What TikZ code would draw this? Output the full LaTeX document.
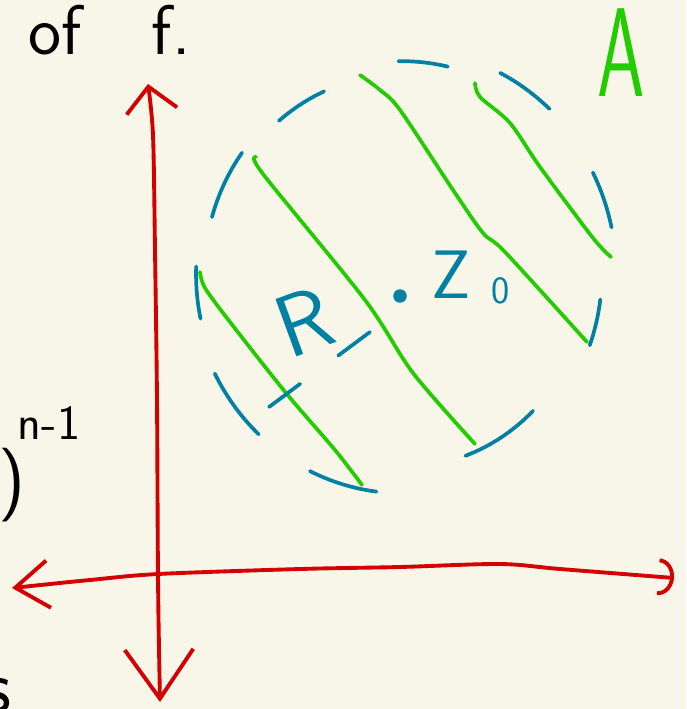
\documentclass[tikz,border=0pt]{standalone}
\usepackage{tikz}
\usetikzlibrary{arrows.meta,calc}
\definecolor{sketchred}{RGB}{212,0,0}
\definecolor{sketchblue}{RGB}{0,128,163}
\definecolor{sketchgreen}{RGB}{34,204,0}
\definecolor{paper}{RGB}{248,246,233}

\begin{document}
\begin{tikzpicture}[x=0.02cm, y=-0.02cm,
  axis/.style={draw=sketchred, line width=2.2pt, line cap=round, line join=round},
  rim/.style={draw=sketchblue, line width=2.1pt, line cap=round},
  hatch/.style={draw=sketchgreen, line width=2.1pt, line cap=round, line join=round},
  ink/.style={inner sep=0pt, font=\sffamily},
  dot/.style={circle, fill=sketchblue, inner sep=0pt, minimum size=0.27cm}
]
\clip (0,0) rectangle (686,709);
\fill[paper] (0,0) rectangle (686,709);

% axes
\draw[axis, {Straight Barb[length=28pt, width=39pt]}-{Straight Barb[length=14pt, width=29pt]}]
  plot[smooth] coordinates {(160,702) (158,575) (157,400) (155,250) (153,135) (148,84)};
\draw[axis, {Straight Barb[length=19pt, width=27pt]}-{Arc Barb[length=9pt, width=21pt]}]
  plot[smooth] coordinates {(12,588) (90,580) (158,574) (300,569) (400,567) (500,564) (560,569) (674,578)};

% dashed rim of the disc
\coordinate (C) at (402,274);
\foreach \a/\b/\s in {144/164/0.96, 114/130/0.93, 77/91/0.99, 47/63/1.05, 12/27/1.04,
    -20/-7/0.97, -70/-45/0.9, -116/-97/1.02, 207/227/1.02, 178/192/1.0}
  \draw[rim] ($(C)+(\a:{\s*4.12cm} and {\s*4.3cm})$)
    arc[start angle=\a, end angle=\b, x radius=\s*4.12cm, y radius=\s*4.3cm];

% hatching
\draw[hatch] plot[smooth] coordinates {(200,272) (205,288) (230,322) (286,393) (335,450) (362,485)};
\draw[hatch] plot[smooth] coordinates {(256,157) (263,174) (365,300) (413,373) (475,444)};
\draw[hatch] plot[smooth] coordinates {(360,75) (380,90) (400,110) (453,190) (483,233) (505,252) (587,342)};
\draw[hatch] plot[smooth] coordinates {(475,83) (480,97) (510,123) (540,167) (593,238) (611,257)};

% centre and radius
\node[dot] (z0) at (400,296) {};
\node[ink, anchor=base west, text=sketchblue, font=\fontsize{39}{39}\selectfont\sffamily] (z0label) at (431,298)
  {Z\hspace{0.3em}\raisebox{-3pt}{\fontsize{22}{22}\selectfont 0}};
\draw[rim, dash pattern=on 22.5pt off 27pt] (370,332) -- (269,407);
\node[ink, text=sketchblue, rotate=20, font=\fontsize{50}{50}\selectfont\sffamily] (Rlabel) at (304,322) {R};

\node[ink, anchor=base, text=sketchgreen, font=\fontsize{72}{72}\selectfont\sffamily] (Alabel) at (621,97)
  {\scalebox{0.6}[1]{A}};

% text cut by the frame
\node[ink, anchor=base west, font=\fontsize{40}{40}\selectfont\sffamily] (oftext) at (28,55) {of\hspace{1em}f.};
\node[ink, anchor=base west, font=\fontsize{42}{42}\selectfont\sffamily] (powtext) at (-2,503)
  {)\hspace{-0.1em}\raisebox{36pt}{\fontsize{28}{28}\selectfont n-1}};
\node[ink, anchor=base west, font=\fontsize{44}{44}\selectfont\sffamily] (stext) at (-17,712) {s};
\end{tikzpicture}
\end{document}
